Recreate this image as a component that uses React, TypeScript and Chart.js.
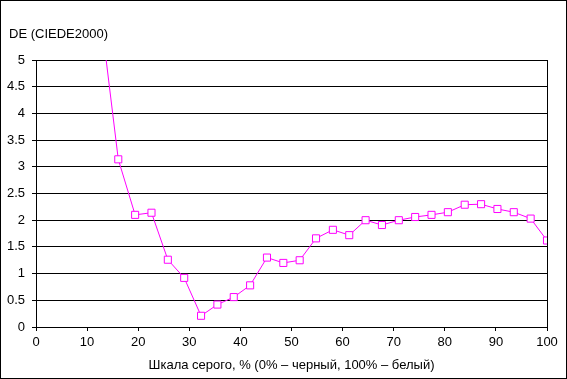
import React, { useEffect, useRef } from "react";
import { Chart, registerables } from "chart.js";

Chart.register(...registerables);

// Gray level, % (0% = black, 100% = white)
const grayLevels = [
  12.9, 16.1, 19.4, 22.6, 25.8, 29.0, 32.3, 35.5, 38.7, 41.9, 45.2, 48.4, 51.6, 54.8,
  58.1, 61.3, 64.5, 67.7, 71.0, 74.2, 77.4, 80.6, 83.9, 87.1, 90.3, 93.5, 96.8, 100,
];
// DE (CIEDE2000)
const deValues = [
  5.65, 3.14, 2.1, 2.14, 1.26, 0.92, 0.21, 0.42, 0.56, 0.78, 1.3, 1.2, 1.25, 1.66,
  1.82, 1.72, 2.0, 1.91, 2.0, 2.06, 2.1, 2.15, 2.29, 2.3, 2.21, 2.15, 2.03, 1.62,
];
const yTitle = "DE (CIEDE2000)";
const xTitle = "Шкала серого, % (0% – черный, 100% – белый)";

const FONT = "'Liberation Sans', Arial, sans-serif";
const FS = 13;

export default function App() {
  const ref = useRef<HTMLCanvasElement | null>(null);

  useEffect(() => {
    if (!ref.current) return;
    const titlePlugin = {
      id: "yTitleText",
      afterDraw(chart: any) {
        const ctx = chart.ctx;
        ctx.save();
        ctx.font = `${FS}px ${FONT}`;
        ctx.fillStyle = "#000";
        ctx.textBaseline = "alphabetic";
        ctx.textAlign = "left";
        ctx.fillText(yTitle, 8, 36.7);
        ctx.restore();
      },
    };
    const chart = new Chart(ref.current, {
      type: "line",
      data: {
        datasets: [
          {
            data: grayLevels.map((x, i) => ({ x, y: deValues[i] })),
            borderColor: "#FF00FF",
            borderWidth: 1,
            pointStyle: "rect",
            pointRadius: 5,
            pointBorderWidth: 1,
            pointBorderColor: "#FF00FF",
            pointBackgroundColor: "#FFFFFF",
            tension: 0,
          },
        ],
      },
      options: {
        animation: false,
        responsive: false,
        maintainAspectRatio: false,
        layout: { padding: { top: 59, right: 19, bottom: 0, left: 0 } },
        plugins: {
          legend: { display: false },
          tooltip: { enabled: false },
          title: { display: false },
        },
        scales: {
          x: {
            type: "linear",
            min: 0,
            max: 100,
            afterFit: (s: any) => {
              s.height = 51;
            },
            ticks: {
              stepSize: 10,
              color: "#000",
              font: { family: FONT, size: FS },
              padding: 4,
              maxRotation: 0,
            },
            grid: {
              color: (c: any) =>
                c.tick && (c.tick.value === 0 || c.tick.value === 100) ? "#000" : "rgba(0,0,0,0)",
              tickColor: "#000",
              tickLength: 4,
              lineWidth: 1,
            },
            border: { color: "#000", width: 1 },
            title: {
              display: true,
              text: xTitle,
              color: "#000",
              font: { family: FONT, size: FS },
              padding: { top: 0, bottom: 5 },
            },
          },
          y: {
            min: 0,
            max: 5,
            afterFit: (s: any) => {
              s.width = 35;
            },
            ticks: {
              stepSize: 0.5,
              color: "#000",
              font: { family: FONT, size: FS },
              padding: 7,
              callback: (v: any) => String(Number(v)),
            },
            grid: {
              color: "#000",
              tickColor: "#000",
              tickLength: 4,
              lineWidth: 1,
            },
            border: { color: "#000", width: 1 },
          },
        },
      },
      plugins: [titlePlugin],
    });
    return () => chart.destroy();
  }, []);

  return (
    <div
      style={{
        position: "fixed",
        left: 0,
        top: 0,
        width: 567,
        height: 379,
        border: "1px solid #000",
        boxSizing: "border-box",
        background: "#fff",
      }}
    >
      <canvas ref={ref} width={565} height={377} style={{ display: "block", width: 565, height: 377 }} />
    </div>
  );
}
